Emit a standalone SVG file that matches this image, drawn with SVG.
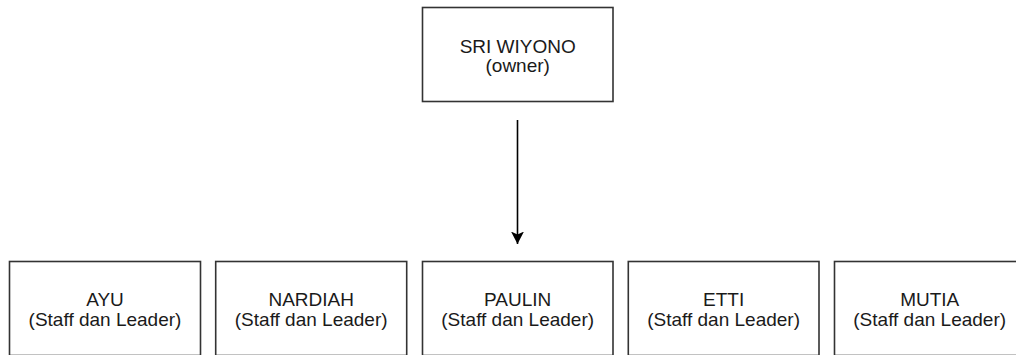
<svg xmlns="http://www.w3.org/2000/svg" width="1016" height="355" viewBox="0 0 1016 355">
<style>
.box{fill:#ffffff;stroke:#333333;stroke-width:1.6}
.t{font-family:"Liberation Sans",Arial,Helvetica,sans-serif;font-size:19px;fill:#1a1a1a;text-anchor:middle}
.edge{stroke:#000000;stroke-width:1.6;fill:none}
</style>
<defs>
<marker id="arr" viewBox="0 0 14 14" refX="12.5" refY="7" markerWidth="14" markerHeight="14" markerUnits="userSpaceOnUse" orient="auto">
<path d="M0,0.5 L12.5,7 L0,13.5 L3,7 Z" fill="#000000"/>
</marker>
</defs>
<rect width="1016" height="355" fill="#ffffff"/>
<g id="connectors">
<path class="edge" d="M517.5,120 L517.5,244" marker-end="url(#arr)"/>
</g>
<g id="node-sri-wiyono">
<rect class="box" x="422.5" y="7.5" width="190.5" height="94"/>
<text class="t" x="517.7" y="52.5">SRI WIYONO</text>
<text class="t" x="517.7" y="72">(owner)</text>
</g>
<g id="node-ayu">
<rect class="box" x="9.5" y="261.5" width="191" height="94"/>
<text class="t" x="105" y="306.3">AYU</text>
<text class="t" x="105" y="325.6">(Staff dan Leader)</text>
</g>
<g id="node-nardiah">
<rect class="box" x="215.7" y="261.5" width="191" height="94"/>
<text class="t" x="311.2" y="306.3">NARDIAH</text>
<text class="t" x="311.2" y="325.6">(Staff dan Leader)</text>
</g>
<g id="node-paulin">
<rect class="box" x="422.5" y="261.5" width="190.5" height="94"/>
<text class="t" x="517.7" y="306.3">PAULIN</text>
<text class="t" x="517.7" y="325.6">(Staff dan Leader)</text>
</g>
<g id="node-etti">
<rect class="box" x="628.3" y="261.5" width="190.7" height="94"/>
<text class="t" x="723.6" y="306.3">ETTI</text>
<text class="t" x="723.6" y="325.6">(Staff dan Leader)</text>
</g>
<g id="node-mutia">
<rect class="box" x="834.5" y="261.5" width="190.5" height="94"/>
<text class="t" x="929.7" y="306.3">MUTIA</text>
<text class="t" x="929.7" y="325.6">(Staff dan Leader)</text>
</g>
</svg>
